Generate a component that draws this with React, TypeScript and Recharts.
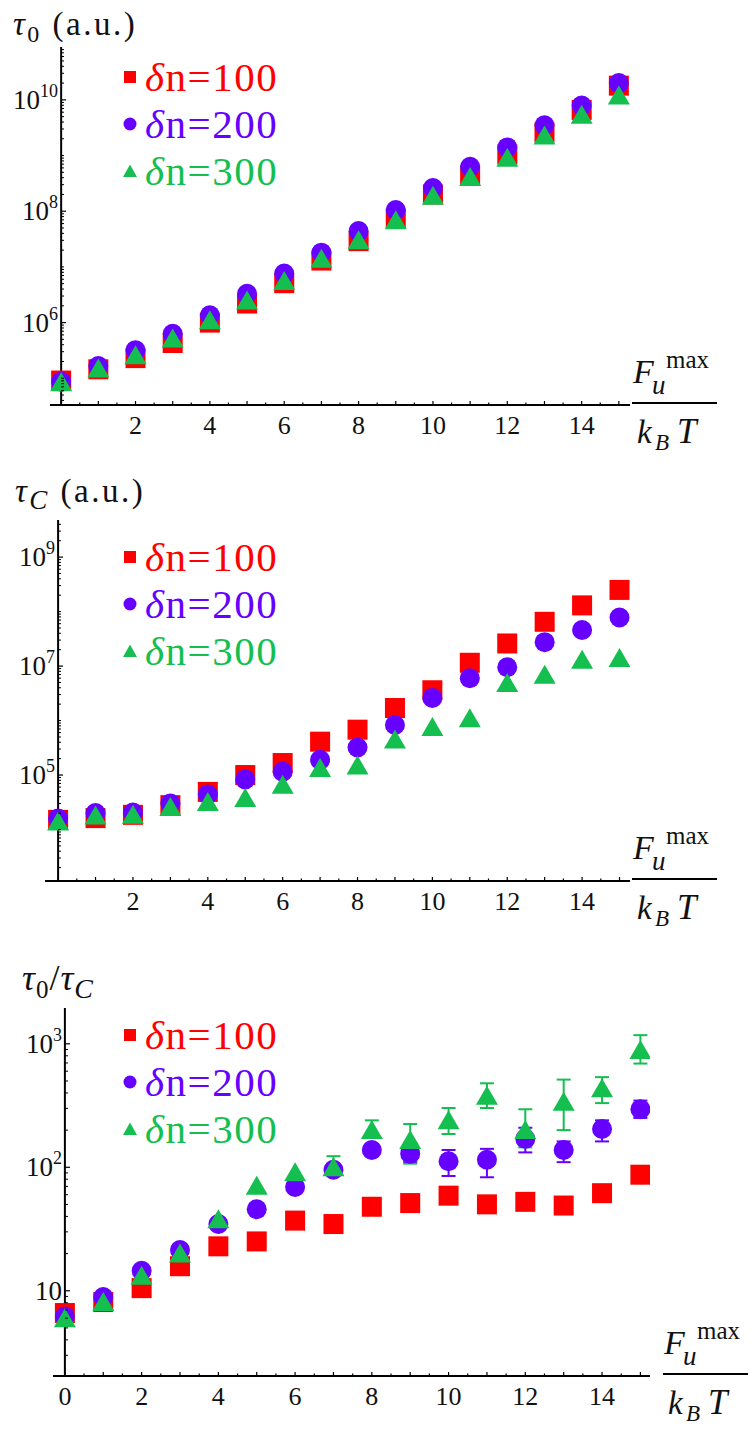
import React from 'react';
import { ScatterChart, Scatter, XAxis, YAxis, ErrorBar, ReferenceLine, Legend } from 'recharts';

const SERIF = "'Liberation Serif', 'DejaVu Serif', serif";
const RED = '#ff0000';
const PURPLE = '#6600ff';
const GREEN = '#14bf50';

// F_u^max / k_B T
const fValues = [0, 1, 2, 3, 4, 5, 6, 7, 8, 9, 10, 11, 12, 13, 14, 15];
const seriesNames = ['δn=100', 'δn=200', 'δn=300'];

// tau_0 (a.u.)
const tau0N100 = [9.1e4, 1.45e5, 2.3e5, 4.3e5, 1.0e6, 2.2e6, 5.1e6, 1.3e7, 2.9e7, 7.4e7, 2.0e8, 4.4e8, 1.05e9, 2.6e9, 6.6e9, 1.8e10];
const tau0N200 = [8.7e4, 1.66e5, 3.2e5, 6.3e5, 1.35e6, 3.3e6, 7.6e6, 1.8e7, 4.4e7, 1.05e8, 2.6e8, 6.3e8, 1.4e9, 3.5e9, 7.9e9, 2.0e10];
const tau0N300 = [8.5e4, 1.5e5, 2.6e5, 5.2e5, 1.1e6, 2.5e6, 5.6e6, 1.4e7, 3.0e7, 6.9e7, 1.9e8, 4.1e8, 9.1e8, 2.3e9, 5.4e9, 1.2e10];

// tau_C (a.u.)
const tauCN100 = [1.5e4, 1.62e4, 1.86e4, 2.8e4, 4.9e4, 1.0e5, 1.66e5, 4.1e5, 6.8e5, 1.7e6, 3.6e6, 1.15e7, 2.6e7, 6.5e7, 1.3e8, 2.5e8];
const tauCN200 = [1.6e4, 2.0e4, 2.05e4, 3.0e4, 4.4e4, 8.3e4, 1.15e5, 1.9e5, 3.2e5, 8.3e5, 2.6e6, 6.0e6, 9.5e6, 2.75e7, 4.6e7, 7.8e7];
const tauCN300 = [1.4e4, 1.8e4, 1.86e4, 2.6e4, 3.2e4, 3.8e4, 6.6e4, 1.35e5, 1.5e5, 4.5e5, 7.6e5, 1.1e6, 4.9e6, 6.9e6, 1.3e7, 1.4e7];

// tau_0 / tau_C
const ratioN100 = [6.6, 8.1, 10.5, 15.8, 22.9, 25.1, 37, 34.7, 47.9, 51.3, 58.9, 50.1, 52.5, 49, 61.7, 87.1];
const ratioN200 = [6.2, 8.9, 14.5, 21.4, 34.7, 45.7, 69.2, 95.5, 138, 129, 112, 115, 170, 138, 204, 295];
const ratioN300 = [6.0, 8.1, 13.2, 20.0, 38.0, 70.8, 91.2, 100, 200, 166, 240, 380, 200, 339, 437, 891];
// [minus, plus]
const ratioErrN200 = [null, null, null, null, null, null, null, null, [15, 15], [19, 29], [27, 26], [32, 26], [38, 39], [28, 24], [42, 36], [44, 52]];
const ratioErrN300 = [null, null, null, null, null, null, null, [10, 23], [20, 40], [59, 58], [54, 62], [78, 99], [55, 95], [139, 174], [106, 100], [199, 284]];

const tau0Labels = [1e6, 1e8, 1e10];
const tauCLabels = [1e5, 1e7, 1e9];
const ratioLabels = [10, 100, 1000];
const fLabelsNoZero = [2, 4, 6, 8, 10, 12, 14];
const fLabels = [0, 2, 4, 6, 8, 10, 12, 14];

const logTicks = (lo: number, hi: number) => {
  const out: number[] = [];
  for (let e = Math.floor(Math.log10(lo)); e <= Math.ceil(Math.log10(hi)); e++) {
    for (let k = 1; k < 10; k++) {
      const v = k * Math.pow(10, e);
      if (v >= lo && v <= hi) out.push(v);
    }
  }
  return out;
};
const halfTicks = (hi: number) => {
  const out: number[] = [];
  for (let v = 0; v <= hi; v += 0.5) out.push(v);
  return out;
};

const toPoints = (ys: number[], errs?: (number[] | null)[]) =>
  fValues.map((x, i) => ({ x, y: ys[i], err: errs && errs[i] ? errs[i] : undefined }));

const squareShape = (p: any) => <rect x={p.cx - 10} y={p.cy - 10} width={20} height={20} fill={RED} />;
const circleShape = (p: any) => <circle cx={p.cx} cy={p.cy} r={10} fill={PURPLE} />;
const triangleShape = (p: any) => (
  <polygon points={`${p.cx},${p.cy - 10} ${p.cx + 11},${p.cy + 9} ${p.cx - 11},${p.cy + 9}`} fill={GREEN} />
);

const legendMarker = (type: string, color: string) => {
  if (type === 'square') return <rect x={3} y={3} width={12} height={12} fill={color} />;
  if (type === 'circle') return <circle cx={9} cy={9} r={6.5} fill={color} />;
  return <polygon points="9,2.5 16,15 2,15" fill={color} />;
};

const LegendBox = (props: any) => (
  <div style={{ fontFamily: SERIF }}>
    {(props.payload || []).map((e: any) => (
      <div key={e.value} style={{ display: 'flex', alignItems: 'center', height: 47, color: e.color, fontSize: 41, whiteSpace: 'nowrap' }}>
        <svg width={18} height={18} style={{ display: 'block' }}>{legendMarker(e.type, e.color)}</svg>
        <span style={{ marginLeft: 6, letterSpacing: 1.5 }}>
          <i>{e.value.slice(0, 1)}</i>
          {e.value.slice(1)}
        </span>
      </div>
    ))}
  </div>
);

const makeYTick = (labels: number[], axisDx: number) => (props: any) => {
  const { x, y, payload } = props;
  const v = payload.value;
  const ax = x + axisDx;
  const major = labels.some((l) => Math.abs(l / v - 1) < 1e-6);
  if (!major) return <line x1={ax} x2={ax + 3} y1={y} y2={y} stroke="#000" strokeWidth={1} />;
  const exp = Math.round(Math.log10(v));
  return (
    <g>
      <line x1={ax} x2={ax + 5} y1={y} y2={y} stroke="#000" strokeWidth={1.2} />
      <text x={ax - 3} y={y + 9} textAnchor="end" fontFamily={SERIF} fontSize={27} fill="#111">
        10
        {exp !== 1 ? (
          <tspan fontSize={18} dy={-12}>
            {exp}
          </tspan>
        ) : null}
      </text>
    </g>
  );
};

const makeXTick = (labels: number[]) => (props: any) => {
  const { x, y, payload } = props;
  const v = payload.value;
  const isInt = Number.isInteger(v);
  return (
    <g>
      <line x1={x} x2={x} y1={y} y2={y - (isInt ? 4 : 2.5)} stroke="#000" strokeWidth={1.2} />
      {labels.includes(v) ? (
        <text x={x} y={y + 29} textAnchor="middle" fontFamily={SERIF} fontSize={26} fill="#111">
          {v}
        </text>
      ) : null}
    </g>
  );
};

const makeFraction = (gap: number) => (props: any) => {
  const vb = props.viewBox || {};
  const x0 = vb.x + vb.width + gap;
  const L = vb.y - 2;
  return (
    <g fontFamily={SERIF} fill="#111">
      <text x={x0 + 1} y={L - 20} fontSize={34} fontStyle="italic">F</text>
      <text x={x0 + 20} y={L - 9} fontSize={27} fontStyle="italic">u</text>
      <text x={x0 + 34} y={L - 35} fontSize={25}>max</text>
      <line x1={x0} x2={x0 + 85} y1={L} y2={L} stroke="#000" strokeWidth={2} />
      <text x={x0 + 5} y={L + 40} fontSize={33} fontStyle="italic">k</text>
      <text x={x0 + 23} y={L + 47} fontSize={23} fontStyle="italic">B</text>
      <text x={x0 + 45} y={L + 40} fontSize={35} fontStyle="italic">T</text>
    </g>
  );
};

const makeTitle = (kind: string, left: number, dy: number) => (props: any) => {
  const vb = props.viewBox || {};
  const y = vb.y + dy;
  if (kind === 'ratio') {
    return (
      <text x={left} y={y} fontFamily={SERIF} fontSize={36} fill="#111" letterSpacing={1}>
        <tspan fontStyle="italic">τ</tspan>
        <tspan fontSize={25} dy={8}>0</tspan>
        <tspan dy={-8}>/</tspan>
        <tspan fontStyle="italic">τ</tspan>
        <tspan fontSize={28} dy={8} fontStyle="italic">C</tspan>
      </text>
    );
  }
  return (
    <text x={left} y={y} fontFamily={SERIF} fontSize={33} fill="#111" letterSpacing={2.5}>
      <tspan fontStyle="italic">τ</tspan>
      {kind === 'tau0' ? (
        <tspan fontSize={24} dy={7}>0</tspan>
      ) : (
        <tspan fontSize={27} dy={7} fontStyle="italic">C</tspan>
      )}
      <tspan dy={-7}> (a.u.)</tspan>
    </text>
  );
};

type PanelProps = {
  height: number;
  margin: { top: number; right: number; bottom: number; left: number };
  xDomain: [number, number];
  yDomain: [number, number];
  yLabels: number[];
  xLabels: number[];
  axisDx: number;
  fracGap: number;
  title: string;
  titleLeft: number;
  titleDy: number;
  legendTop: number;
  red: number[];
  purple: number[];
  green: number[];
  purpleErr?: (number[] | null)[];
  greenErr?: (number[] | null)[];
};

const Panel = (p: PanelProps) => (
  <ScatterChart
    width={756}
    height={p.height}
    margin={{ top: p.margin.top, right: p.margin.right, bottom: p.margin.bottom - 1, left: p.margin.left - 1 }}
  >
    <XAxis
      type="number"
      dataKey="x"
      domain={p.xDomain}
      allowDataOverflow
      ticks={halfTicks(15)}
      interval={0}
      height={1}
      tickSize={0}
      tickMargin={0}
      tickLine={false}
      axisLine={{ stroke: '#000', strokeWidth: 2 }}
      tick={makeXTick(p.xLabels)}
      label={makeFraction(p.fracGap)}
    />
    <YAxis
      type="number"
      dataKey="y"
      scale="log"
      domain={p.yDomain}
      allowDataOverflow
      ticks={logTicks(p.yDomain[0], p.yDomain[1])}
      interval={0}
      width={1}
      tickSize={0}
      tickMargin={0}
      tickLine={false}
      axisLine={false}
      tick={makeYTick(p.yLabels, p.axisDx)}
      label={makeTitle(p.title, p.titleLeft, p.titleDy)}
    />
    <ReferenceLine x={0} stroke="#000" strokeWidth={2} />
    <Legend
      layout="vertical"
      align="center"
      verticalAlign="middle"
      content={LegendBox}
      wrapperStyle={{ left: 121, top: p.legendTop, width: 260 }}
    />
    <Scatter name={seriesNames[0]} data={toPoints(p.red)} fill={RED} legendType="square" shape={squareShape} isAnimationActive={false} />
    <Scatter name={seriesNames[1]} data={toPoints(p.purple, p.purpleErr)} fill={PURPLE} legendType="circle" shape={circleShape} isAnimationActive={false}>
      {p.purpleErr ? <ErrorBar dataKey="err" direction="y" width={7} strokeWidth={2} stroke={PURPLE} /> : null}
    </Scatter>
    <Scatter name={seriesNames[2]} data={toPoints(p.green, p.greenErr)} fill={GREEN} legendType="triangle" shape={triangleShape} isAnimationActive={false}>
      {p.greenErr ? <ErrorBar dataKey="err" direction="y" width={7} strokeWidth={2} stroke={GREEN} /> : null}
    </Scatter>
  </ScatterChart>
);

export default function App() {
  return (
    <div style={{ position: 'absolute', left: 0, top: 0, width: 756, background: '#fff' }}>
      <Panel
        height={458}
        margin={{ top: 47, right: 126, bottom: 53, left: 50 }}
        xDomain={[-0.3, 15.3]}
        yDomain={[3.31e4, 8.9e10]}
        yLabels={tau0Labels}
        xLabels={fLabelsNoZero}
        axisDx={11}
        fracGap={2}
        title="tau0"
        titleLeft={13}
        titleDy={-12}
        legendTop={53}
        red={tau0N100}
        purple={tau0N200}
        green={tau0N300}
      />
      <Panel
        height={492}
        margin={{ top: 62, right: 126, bottom: 69, left: 45 }}
        xDomain={[-0.35, 15.28]}
        yDomain={[1.135e3, 4.8e9]}
        yLabels={tauCLabels}
        xLabels={fLabelsNoZero}
        axisDx={13}
        fracGap={2}
        title="tauC"
        titleLeft={15}
        titleDy={-18}
        legendTop={75}
        red={tauCN100}
        purple={tauCN200}
        green={tauCN300}
      />
      <Panel
        height={484}
        margin={{ top: 58, right: 106, bottom: 58, left: 53 }}
        xDomain={[-0.31, 15.25]}
        yDomain={[2.04, 1950]}
        yLabels={ratioLabels}
        xLabels={fLabels}
        axisDx={12}
        fracGap={13}
        title="ratio"
        titleLeft={22}
        titleDy={-18}
        legendTop={61}
        red={ratioN100}
        purple={ratioN200}
        green={ratioN300}
        purpleErr={ratioErrN200}
        greenErr={ratioErrN300}
      />
    </div>
  );
}
